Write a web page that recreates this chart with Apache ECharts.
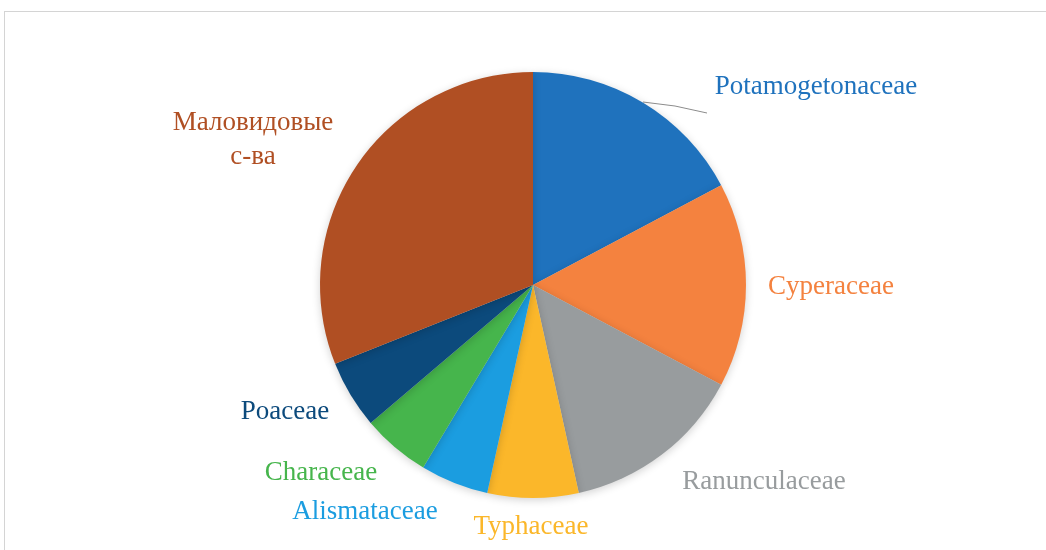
<!DOCTYPE html>
<html>
<head>
<meta charset="utf-8">
<script src="https://cdn.jsdelivr.net/npm/echarts@6/dist/echarts.min.js"></script>
<style>
    html, body { margin: 0; padding: 0; background: #fff; overflow: hidden; }
    #frame { position: absolute; left: 4px; top: 11px; width: 1100px; height: 600px; border: 1px solid #d4d4d4; }
    #main { position: absolute; left: 0; top: 0; width: 1046px; height: 550px; }
</style>
</head>
<body>
<div id="frame"></div>
<div id="main"></div>
<script>
// семейства и число видов
const families = ['Potamogetonaceae', 'Cyperaceae', 'Ranunculaceae', 'Typhaceae',
    'Alismataceae', 'Characeae', 'Poaceae', 'Маловидовые\nс-ва'];
const speciesCount = [10, 9, 8, 4, 3, 3, 3, 18];
const colors = ['#1f72bd', '#f4823f', '#989c9e', '#fbb72a', '#1b9de0', '#46b54c', '#0c4a7c', '#b04f23'];

// где стоят подписи (центр текста)
const labelPos = [
    [816, 87], [831, 287], [764, 482], [531, 527],
    [365, 512], [321, 473], [285, 412], [253, 140]
];

let myChart = echarts.init(document.getElementById('main'));

let pieData = families.map(function (name, i) {
    return {
        name: name,
        value: speciesCount[i],
        itemStyle: { color: colors[i] },
        label: { color: colors[i] },
        labelLine: { show: i === 0 }
    };
});

let option = {
    animation: false,
    series: [{
        type: 'pie',
        center: [533, 285],
        radius: 213,
        startAngle: 90,
        clockwise: true,
        data: pieData,
        itemStyle: {
            borderWidth: 0,
            shadowColor: 'rgba(0,0,0,0.18)',
            shadowBlur: 8,
            shadowOffsetY: 2
        },
        label: {
            show: true,
            position: 'outside',
            fontFamily: 'Liberation Serif',
            fontSize: 27,
            lineHeight: 34,
            align: 'center'
        },
        labelLine: {
            show: true,
            length: 20,
            length2: 40,
            lineStyle: { color: '#8c8c8c', width: 1 }
        },
        labelLayout: function (params) {
            let p = labelPos[params.dataIndex];
            let res = { x: p[0], y: p[1], align: 'center', verticalAlign: 'middle' };
            if (params.dataIndex === 0) {
                res.labelLinePoints = [[643, 102], [675, 106], [707, 113]];
            }
            return res;
        }
    }]
};

myChart.setOption(option);
</script>
</body>
</html>
